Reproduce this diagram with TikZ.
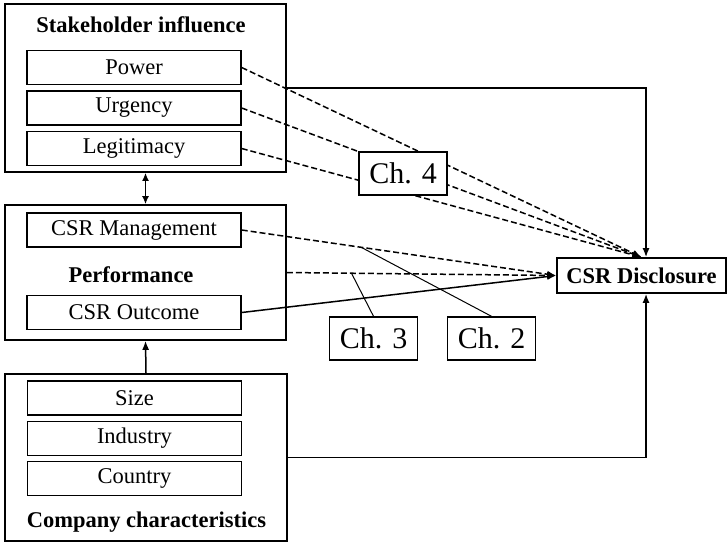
\documentclass[tikz,border=0pt]{standalone}
\usepackage{fontspec}
\setmainfont{Liberation Serif}
\usetikzlibrary{arrows.meta,calc}
\begin{document}
\begin{tikzpicture}[x=1pt,y=-1pt,
  outer/.style={draw,line width=1.7pt,inner sep=0pt},
  inner/.style={draw,line width=1.4pt,minimum width=214pt,minimum height=34pt,inner sep=0pt,font=\fontsize{22.5}{24}\selectfont},
  ttl/.style={font=\fontsize{22.5}{24}\selectfont\bfseries,inner sep=0pt},
  chap/.style={draw,fill=white,line width=1.4pt,minimum width=88pt,minimum height=43pt,inner sep=0pt,font=\fontsize{30}{32}\selectfont},
  conn/.style={line width=1.5pt,-{Latex[length=9pt,width=7pt]}},
  dconn/.style={conn,dash pattern=on 6pt off 3pt},
  thin/.style={line width=1pt}]
\useasboundingbox (0,0) rectangle (727,542);
% Stakeholder influence
\node[outer,minimum width=281pt,minimum height=168pt] (sh) at (145.5,88) {};
\node[ttl] (sht) at (141,25) {Stakeholder influence};
\node[inner] (pw) at (134,67.5) {Power};
\node[inner] (ur) at (134,108) {Urgency};
\node[inner] (lg) at (134,148.5) {Legitimacy};
% Performance
\node[outer,minimum width=281pt,minimum height=135pt] (pf) at (145.5,272.5) {};
\node[inner] (mg) at (134,230) {CSR Management};
\node[ttl] (pft) at (131,275) {Performance};
\node[inner] (oc) at (134,312.5) {CSR Outcome};
% Company characteristics
\node[outer,minimum width=282pt,minimum height=167pt] (co) at (146,457.5) {};
\node[inner] (sz) at (134.5,398) {Size};
\node[inner] (in) at (134.5,438.5) {Industry};
\node[inner] (ct) at (134.5,478.5) {Country};
\node[ttl] (cot) at (146.5,522) {Company characteristics};
% CSR Disclosure
\node[outer,minimum width=169pt,minimum height=35pt,ttl] (cd) at (641.5,275.5) {CSR Disclosure};
\coordinate (cdn) at ([xshift=4.5pt]cd.north);
\coordinate (cds) at ([xshift=4.5pt]cd.south);
% vertical arrows
\draw[line width=1.5pt,{Latex[length=8pt,width=7pt]}-{Latex[length=8pt,width=7pt]}] (sh.south) -- (pf.north);
\draw[conn] (co.north) -- (pf.south);
% solid elbow arrows
\draw[conn] (sh.east) -| (cdn);
\draw[conn] (co.east) -| (cds);
% dashed arrows
\draw[dconn] (pw.east) -- (cd.north);
\draw[dconn] (ur.east) -- (cd.north);
\draw[dconn] (lg.east) -- (cd.north);
\draw[dconn] (mg.east) -- (cd.west);
\draw[dconn] (pf.east) -- (cd.west);
\draw[conn] (oc.east) -- (cd.west);
% chapters
\node[chap] (c4) at (403,173.5) {Ch. 4};
\node[chap] (c3) at (373.5,338.5) {Ch. 3};
\node[chap] (c2) at (491.5,338.5) {Ch. 2};
\coordinate (p3) at ($(pf.east)!0.24!(cd.west)$);
\coordinate (p2) at ($(mg.east)!0.38!(cd.west)$);
\draw[thin] (c3.north) -- (p3);
\draw[thin] (c2.north) -- (p2);
\end{tikzpicture}
\end{document}
